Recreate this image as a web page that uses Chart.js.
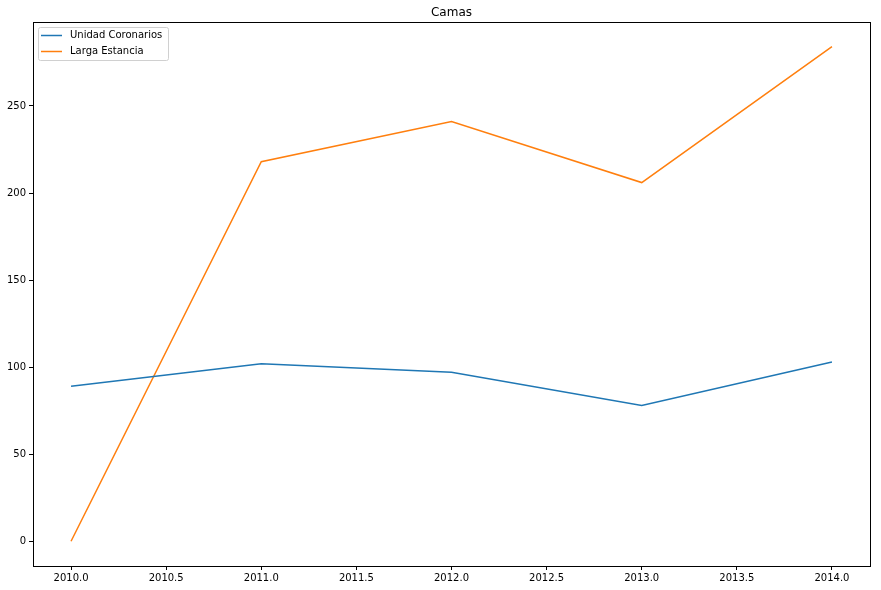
<!DOCTYPE html>
<html>
<head>
<meta charset="utf-8">
<script src="https://cdn.jsdelivr.net/npm/chart.js@4/dist/chart.umd.min.js"></script>
<style>
  html, body { margin: 0; padding: 0; background: #fff; }
  #wrap { width: 881px; height: 590px; }
</style>
</head>
<body>
<div id="wrap"><canvas id="camasChart" width="881" height="590"></canvas></div>
<script>
// data
var years = [2010, 2011, 2012, 2013, 2014];
var coronarios = [89, 102, 97, 78, 103];
var largaEstancia = [0, 218, 241, 206, 284];
var xTicks = [2010.0, 2010.5, 2011.0, 2011.5, 2012.0, 2012.5, 2013.0, 2013.5, 2014.0];
var yTicks = [0, 50, 100, 150, 200, 250];

var fontFamily = "'DejaVu Sans', sans-serif";

function toPoints(values) {
    return years.map((y, i) => ({ x: y, y: values[i] }))
}

// matplotlib style box around the plot area
const frameBox = {
    id: 'frameBox',
    afterDraw(chart) {
        const a = chart.chartArea
        const ctx = chart.ctx
        ctx.save()
        ctx.strokeStyle = '#000'
        ctx.lineWidth = 1
        ctx.strokeRect(Math.round(a.left) + 0.5, Math.round(a.top) + 0.5,
            Math.round(a.right - a.left), Math.round(a.bottom - a.top))
        ctx.restore()
    }
}

// legend drawn inside the axes, upper left
const innerLegend = {
    id: 'innerLegend',
    afterDraw(chart) {
        const a = chart.chartArea
        const ctx = chart.ctx
        const x0 = a.left + 5, y0 = a.top + 5
        ctx.save()
        ctx.font = '10px ' + fontFamily
        var w = 0
        chart.data.datasets.forEach(ds => { w = Math.max(w, ctx.measureText(ds.label).width) })
        const boxW = Math.round(w + 38), boxH = 33
        ctx.fillStyle = 'rgba(255,255,255,0.8)'
        ctx.strokeStyle = '#d0d0d0'
        ctx.lineWidth = 1
        ctx.beginPath()
        ctx.roundRect(x0 + 0.5, y0 + 0.5, boxW, boxH, 2)
        ctx.fill()
        ctx.stroke()
        chart.data.datasets.forEach((ds, i) => {
            const cy = y0 + 8.5 + i * 16
            ctx.strokeStyle = ds.borderColor
            ctx.lineWidth = 1.5
            ctx.beginPath()
            ctx.moveTo(x0 + 3, cy)
            ctx.lineTo(x0 + 24, cy)
            ctx.stroke()
            ctx.fillStyle = '#000'
            ctx.textBaseline = 'middle'
            ctx.fillText(ds.label, x0 + 32, cy)
        })
        ctx.restore()
    }
}

var camasChart = new Chart(document.getElementById('camasChart'), {
    type: 'line',
    data: {
        datasets: [
            {
                label: 'Unidad Coronarios',
                data: toPoints(coronarios),
                borderColor: '#1f77b4',
                backgroundColor: '#1f77b4',
                borderWidth: 1.5,
                pointRadius: 0,
                tension: 0,
                fill: false
            },
            {
                label: 'Larga Estancia',
                data: toPoints(largaEstancia),
                borderColor: '#ff7f0e',
                backgroundColor: '#ff7f0e',
                borderWidth: 1.5,
                pointRadius: 0,
                tension: 0,
                fill: false
            }
        ]
    },
    options: {
        responsive: false,
        animation: false,
        layout: { padding: { left: 0, right: 11, top: 0, bottom: 0 } },
        plugins: {
            legend: { display: false },
            tooltip: { enabled: false },
            title: {
                display: true,
                text: 'Camas',
                color: '#000',
                fullSize: false,
                font: { family: fontFamily, size: 12, weight: 'normal' },
                padding: { top: 6, bottom: 1.6 }
            }
        },
        scales: {
            x: {
                type: 'linear',
                min: 2009.8,
                max: 2014.2,
                afterBuildTicks: scale => { scale.ticks = xTicks.map(v => ({ value: v })) },
                afterFit: scale => { scale.height = 24 },
                ticks: {
                    color: '#000',
                    padding: 2,
                    maxRotation: 0,
                    autoSkip: false,
                    font: { family: fontFamily, size: 10 },
                    callback: v => Number(v).toFixed(1)
                },
                grid: { drawOnChartArea: false, drawTicks: true, tickLength: 4, color: '#000' },
                border: { display: true, color: '#000' }
            },
            y: {
                type: 'linear',
                min: -14.2,
                max: 298.2,
                afterBuildTicks: scale => { scale.ticks = yTicks.map(v => ({ value: v })) },
                afterFit: scale => { scale.width = 33 },
                ticks: {
                    color: '#000',
                    padding: 3,
                    autoSkip: false,
                    font: { family: fontFamily, size: 10 },
                    callback: v => String(v)
                },
                grid: { drawOnChartArea: false, drawTicks: true, tickLength: 4, color: '#000' },
                border: { display: true, color: '#000' }
            }
        }
    },
    plugins: [frameBox, innerLegend]
});
</script>
</body>
</html>
